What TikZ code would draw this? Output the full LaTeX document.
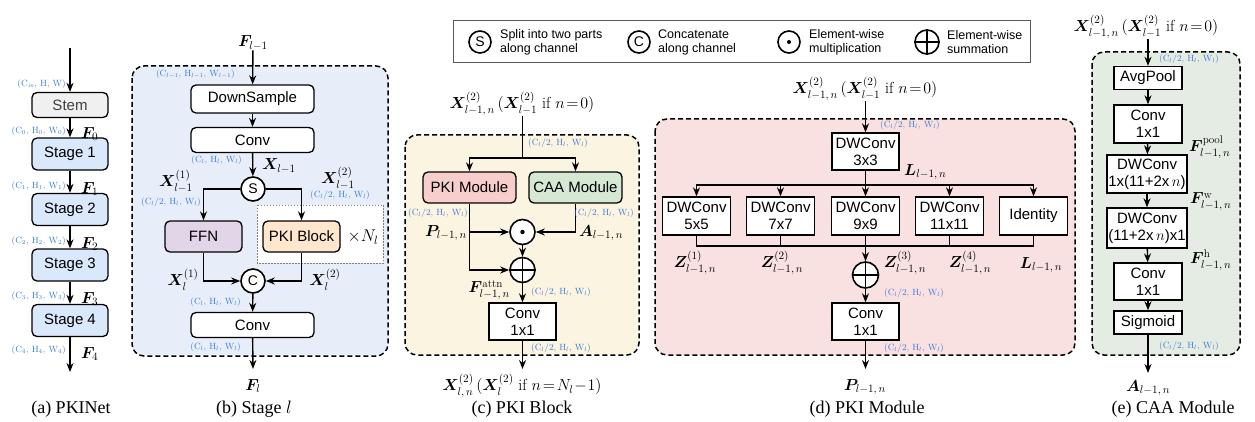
\RequirePackage{fix-cm}
\documentclass[tikz,border=0pt]{standalone}
\usepackage{amsmath,bm}
\usepackage{fontspec}
\newfontfamily\hv{Liberation Sans}
\newfontfamily\tms{Liberation Serif}
\usetikzlibrary{arrows.meta,calc}
\definecolor{lblue}{HTML}{DAE8FC}
\definecolor{panelb}{HTML}{E8EEF9}
\definecolor{ffncol}{HTML}{E1D5E7}
\definecolor{pkbcol}{HTML}{FFE6CC}
\definecolor{panelc}{HTML}{FBF4E0}
\definecolor{pkmcol}{HTML}{F8CECC}
\definecolor{caacol}{HTML}{D5E8D4}
\definecolor{paneld}{HTML}{F8E1E0}
\definecolor{panele}{HTML}{E5ECE3}
\definecolor{shapeblue}{HTML}{3B7DD8}
\definecolor{stemgray}{HTML}{F0F0F0}
\newcommand\dimlab[1]{$(\mathrm{C}_{#1}/2,\,\mathrm{H}_{#1},\,\mathrm{W}_{#1})$}
\newcommand\dimfull[1]{$(\mathrm{C}_{#1},\,\mathrm{H}_{#1},\,\mathrm{W}_{#1})$}
\begin{document}
\begin{tikzpicture}[x=1pt,y=-1pt,
  box/.style={draw=black, line width=1.3pt, font=\hv\fontsize{15}{17}\selectfont, align=center, inner sep=0pt, fill=white},
  rbox/.style={box, rounded corners=5pt},
  arr/.style={line width=1.4pt, -{Stealth[length=9pt,width=7pt]}},
  ln/.style={line width=1.4pt},
  op/.style={circle, draw, line width=1.6pt, fill=white, minimum size=24pt, inner sep=0pt, font=\hv\fontsize{14}{16}\selectfont},
  panel/.style={draw, line width=1.5pt, dash pattern=on 5pt off 3pt, rounded corners=12pt},
  shp/.style={text=shapeblue, font=\fontsize{9}{10}\selectfont, inner sep=0pt},
  mlab/.style={font=\fontsize{16}{19}\selectfont, inner sep=0pt},
  captxt/.style={font=\tms\fontsize{18}{21}\selectfont, inner sep=0pt},
  legtxt/.style={font=\hv\fontsize{12.5}{14}\selectfont, align=left, anchor=west, inner sep=0pt}
]
\fill[white] (0,0) rectangle (1255,422);
\useasboundingbox (0,0) rectangle (1255,422);

% ---------------- (a) PKINet
\coordinate (ain) at (70,48);
\node[rbox, fill=stemgray, text=black!75, minimum width=76pt, minimum height=25pt] (stem) at (70,105) {Stem};
\node[rbox, fill=lblue, minimum width=76pt, minimum height=32pt] (s1) at (70,154) {Stage 1};
\node[rbox, fill=lblue, minimum width=76pt, minimum height=32pt] (s2) at (70,209.5) {Stage 2};
\node[rbox, fill=lblue, minimum width=76pt, minimum height=32pt] (s3) at (70,265) {Stage 3};
\node[rbox, fill=lblue, minimum width=76pt, minimum height=32pt] (s4) at (70,320.5) {Stage 4};
\coordinate (aout) at (70,372);
\draw[arr] (ain) -- (stem);
\draw[arr] (stem) -- (s1);
\draw[arr] (s1) -- (s2);
\draw[arr] (s2) -- (s3);
\draw[arr] (s3) -- (s4);
\draw[arr] (s4) -- (aout);
\node[shp, anchor=east] at (66,84) {$(\mathrm{C}_{\mathit{in}},\,\mathrm{H},\,\mathrm{W})$};
\node[shp, anchor=east] at (66,131) {\dimfull{0}};
\node[shp, anchor=east] at (66,186) {\dimfull{1}};
\node[shp, anchor=east] at (66,241) {\dimfull{2}};
\node[shp, anchor=east] at (66,296) {\dimfull{3}};
\node[shp, anchor=east] at (66,350) {\dimfull{4}};
\node[mlab, anchor=west] at (81,134) {$\bm{F}_0$};
\node[mlab, anchor=west] at (81,189) {$\bm{F}_1$};
\node[mlab, anchor=west] at (81,244) {$\bm{F}_2$};
\node[mlab, anchor=west] at (81,299) {$\bm{F}_3$};
\node[mlab, anchor=west] at (81,354) {$\bm{F}_4$};
\node[captxt] at (71,409) {(a) PKINet};

% ---------------- (b) Stage l
\draw[panel, fill=panelb] (132,66) rectangle (388,356);
\node[mlab] (fl1) at (253,43) {$\bm{F}_{l-1}$};
\node[rbox, minimum width=123pt, minimum height=28pt] (ds) at (252.5,99) {DownSample};
\node[rbox, minimum width=123pt, minimum height=25pt] (cv1) at (252.5,140) {Conv};
\node[op] (S) at (253,189) {S};
\draw[gray, line width=0.8pt, dash pattern=on 1.5pt off 1.5pt, fill=white] (257,205) rectangle (383,263);
\node[rbox, fill=ffncol, minimum width=77pt, minimum height=31pt] (ffn) at (203.5,236.5) {FFN};
\node[rbox, fill=pkbcol, minimum width=77pt, minimum height=31pt] (pkb) at (301.5,236.5) {PKI Block};
\node[mlab, font=\fontsize{17}{19}\selectfont] at (363,237) {$\times N_l$};
\node[op] (C) at (253,281) {C};
\node[rbox, minimum width=123pt, minimum height=25pt] (cv2) at (252.5,325) {Conv};
\coordinate (bout) at (253,369);
\node[mlab] (fl) at (253,386) {$\bm{F}_l$};
\draw[arr] (fl1) -- (ds);
\draw[arr] (ds) -- (cv1);
\draw[arr] (cv1) -- (S);
\draw[arr] (S.west) -| (ffn.north);
\draw[arr] (S.east) -| (pkb.north);
\draw[arr] (ffn.south) |- (C.west);
\draw[arr] (pkb.south) |- (C.east);
\draw[arr] (C) -- (cv2);
\draw[arr] (cv2) -- (bout);
\node[shp, anchor=east] at (235,74) {$(\mathrm{C}_{l-1},\,\mathrm{H}_{l-1},\,\mathrm{W}_{l-1})$};
\node[shp, anchor=east] at (242,160) {\dimfull{l}};
\node[mlab, anchor=west] at (262,166) {$\bm{X}_{l-1}$};
\node[mlab] at (176,181) {$\bm{X}^{(1)}_{l-1}$};
\node[mlab] at (338,178) {$\bm{X}^{(2)}_{l-1}$};
\node[shp, anchor=east] at (201,202) {\dimlab{l}};
\node[shp] at (340,195) {\dimlab{l}};
\node[mlab] at (183,280) {$\bm{X}^{(1)}_{l}$};
\node[mlab] at (325,280) {$\bm{X}^{(2)}_{l}$};
\node[shp, anchor=east] at (241,302) {\dimfull{l}};
\node[shp, anchor=east] at (241,347) {\dimfull{l}};
\node[captxt] at (254,409) {(b) Stage $l$};

% ---------------- legend
\draw[black!65, line width=1pt] (453,21) rectangle (1030,63);
\node[op, minimum size=22pt] (lgS) at (480,42) {S};
\node[legtxt] at (500,42) {Split into two parts\\along channel};
\node[op, minimum size=22pt] (lgC) at (639,42) {C};
\node[legtxt] at (658,42) {Concatenate\\along channel};
\node[op, minimum size=22pt] (lgM) at (789,42) {};
\fill (lgM) circle (2pt);
\node[legtxt] at (809,42) {Element-wise\\multiplication};
\node[op, minimum size=24pt] (lgA) at (927,42) {};
\draw[line width=1.6pt] (lgA.north) -- (lgA.south) (lgA.west) -- (lgA.east);
\node[legtxt] at (947,42) {Element-wise\\summation};

% ---------------- (c) PKI Block
\draw[panel, fill=panelc] (405,135) rectangle (639,355);
\node[mlab] (xin) at (522,104) {$\bm{X}^{(2)}_{l-1,\,n}\,(\bm{X}^{(2)}_{l-1}\ \text{if}\ n\!=\!0)$};
\coordinate (csplit) at (522.5,158);
\node[rbox, fill=pkmcol, minimum width=93pt, minimum height=31pt] (pkm) at (469.5,187.5) {PKI Module};
\node[rbox, fill=caacol, minimum width=93pt, minimum height=31pt] (caa) at (575.5,187.5) {CAA Module};
\node[op, minimum size=25pt] (mul) at (522.5,232) {};
\fill (mul) circle (2.2pt);
\node[op, minimum size=25pt] (add) at (522.5,270) {};
\draw[line width=1.6pt] (add.north) -- (add.south) (add.west) -- (add.east);
\node[box, minimum width=67pt, minimum height=37pt] (cc) at (522.5,321.5) {Conv\\1x1};
\coordinate (cout) at (522.5,369);
\node[mlab] (xout) at (522,386) {$\bm{X}^{(2)}_{l,\,n}\,(\bm{X}^{(2)}_{l}\ \text{if}\ n\!=\!N_l\!-\!1)$};
\draw[ln] (xin.south -| csplit) -- (csplit);
\draw[arr] (csplit) -| (pkm.north);
\draw[arr] (csplit) -| (caa.north);
\draw[arr] (pkm.south) |- (mul.west);
\draw[arr] (caa.south) |- (mul.east);
\draw[arr] (pkm.south) |- (add.west);
\draw[arr] (mul) -- (add);
\draw[arr] (add) -- (cc);
\draw[arr] (cc) -- (cout);
\node[shp] at (558,143) {\dimlab{l}};
\node[shp] at (438,213) {\dimlab{l}};
\node[shp] at (604,213) {\dimlab{l}};
\node[mlab] at (446,233) {$\bm{P}_{l-1,\,n}$};
\node[mlab] at (601,233) {$\bm{A}_{l-1,\,n}$};
\node[mlab, anchor=east] at (510,290) {$\bm{F}^{\mathrm{attn}}_{l-1,\,n}$};
\node[shp] at (561,292) {\dimlab{l}};
\node[shp] at (561,348) {\dimlab{l}};
\node[captxt] at (522,409) {(c) PKI Block};

% ---------------- (d) PKI Module
\draw[panel, fill=paneld] (655,119) rectangle (1075,355);
\node[mlab] (dtop) at (865,89) {$\bm{X}^{(2)}_{l-1,\,n}\,(\bm{X}^{(2)}_{l-1}\ \text{if}\ n\!=\!0)$};
\node[box, minimum width=67pt, minimum height=37pt] (dw3) at (865.5,151.5) {DWConv\\3x3};
\coordinate (dsplit) at (865.5,185);
\node[box, minimum width=68pt, minimum height=38pt] (d5) at (696.5,216) {DWConv\\5x5};
\node[box, minimum width=68pt, minimum height=38pt] (d7) at (780.5,216) {DWConv\\7x7};
\node[box, minimum width=68pt, minimum height=38pt] (d9) at (865.5,216) {DWConv\\9x9};
\node[box, minimum width=68pt, minimum height=38pt] (d11) at (949.5,216) {DWConv\\11x11};
\node[box, minimum width=68pt, minimum height=38pt] (did) at (1033.5,216) {Identity};
\coordinate (dmerge) at (865.5,246);
\node[op, minimum size=26pt] (dsum) at (865.5,275) {};
\draw[line width=1.6pt] (dsum.north) -- (dsum.south) (dsum.west) -- (dsum.east);
\node[box, minimum width=67pt, minimum height=37pt] (dcv) at (865.5,321.5) {Conv\\1x1};
\coordinate (dout) at (865.5,369);
\node[mlab] at (865,387) {$\bm{P}_{l-1,\,n}$};
\draw[arr] (dtop.south -| dw3) -- (dw3);
\draw[ln] (dw3) -- (dsplit);
\draw[arr] (dsplit) -| (d5.north);
\draw[arr] (dsplit) -| (d7.north);
\draw[arr] (dsplit) -- (d9);
\draw[arr] (dsplit) -| (d11.north);
\draw[arr] (dsplit) -| (did.north);
\draw[ln] (d5.south) |- (dmerge);
\draw[ln] (d7.south) |- (dmerge);
\draw[ln] (d11.south) |- (dmerge);
\draw[ln] (did.south) |- (dmerge);
\draw[arr] (d9) -- (dsum);
\draw[arr] (dsum) -- (dcv);
\draw[arr] (dcv) -- (dout);
\node[shp, anchor=west] at (880,125) {\dimlab{l}};
\node[mlab, anchor=west] at (904,172) {$\bm{L}_{l-1,\,n}$};
\node[mlab] at (695,263) {$\bm{Z}^{(1)}_{l-1,\,n}$};
\node[mlab] at (782,263) {$\bm{Z}^{(2)}_{l-1,\,n}$};
\node[mlab] at (905,263) {$\bm{Z}^{(3)}_{l-1,\,n}$};
\node[mlab] at (970,263) {$\bm{Z}^{(4)}_{l-1,\,n}$};
\node[mlab] at (1041,265) {$\bm{L}_{l-1,\,n}$};
\node[shp, anchor=west] at (884,293) {\dimlab{l}};
\node[shp, anchor=west] at (884,348) {\dimlab{l}};
\node[captxt] at (867,409) {(d) PKI Module};

% ---------------- (e) CAA Module
\draw[panel, fill=panele] (1092,52) rectangle (1240,355);
\node[mlab] (etop) at (1146,27) {$\bm{X}^{(2)}_{l-1,\,n}\,(\bm{X}^{(2)}_{l-1}\ \text{if}\ n\!=\!0)$};
\node[box, minimum width=68pt, minimum height=23pt] (eap) at (1148,78) {AvgPool};
\node[box, minimum width=68pt, minimum height=38pt] (ec1) at (1148,124) {Conv\\1x1};
\node[box, minimum width=80pt, minimum height=38pt] (ew) at (1147,174) {DWConv\\1x(11+2x\,$n$)};
\node[box, minimum width=80pt, minimum height=40pt] (eh) at (1147,228) {DWConv\\(11+2x\,$n$)x1};
\node[box, minimum width=68pt, minimum height=37pt] (ec2) at (1148,281.5) {Conv\\1x1};
\node[box, minimum width=68pt, minimum height=23pt] (esg) at (1148,322.5) {Sigmoid};
\coordinate (eout) at (1148,373);
\node[mlab] at (1148,388) {$\bm{A}_{l-1,\,n}$};
\draw[arr] (etop.south -| eap) -- (eap);
\draw[arr] (eap) -- (ec1);
\draw[arr] (ec1) -- (ew);
\draw[arr] (ew) -- (eh);
\draw[arr] (eh) -- (ec2);
\draw[arr] (ec2) -- (esg);
\draw[arr] (esg) -- (eout);
\node[shp, anchor=west] at (1159,59) {\dimlab{l}};
\node[mlab, anchor=west] at (1189,147) {$\bm{F}^{\mathrm{pool}}_{l-1,\,n}$};
\node[mlab, anchor=west] at (1190,202) {$\bm{F}^{\mathrm{w}}_{l-1,\,n}$};
\node[mlab, anchor=west] at (1190,260) {$\bm{F}^{\mathrm{h}}_{l-1,\,n}$};
\node[shp, anchor=west] at (1159,346) {\dimlab{l}};
\node[captxt] at (1173,409) {(e) CAA Module};
\end{tikzpicture}
\end{document}
